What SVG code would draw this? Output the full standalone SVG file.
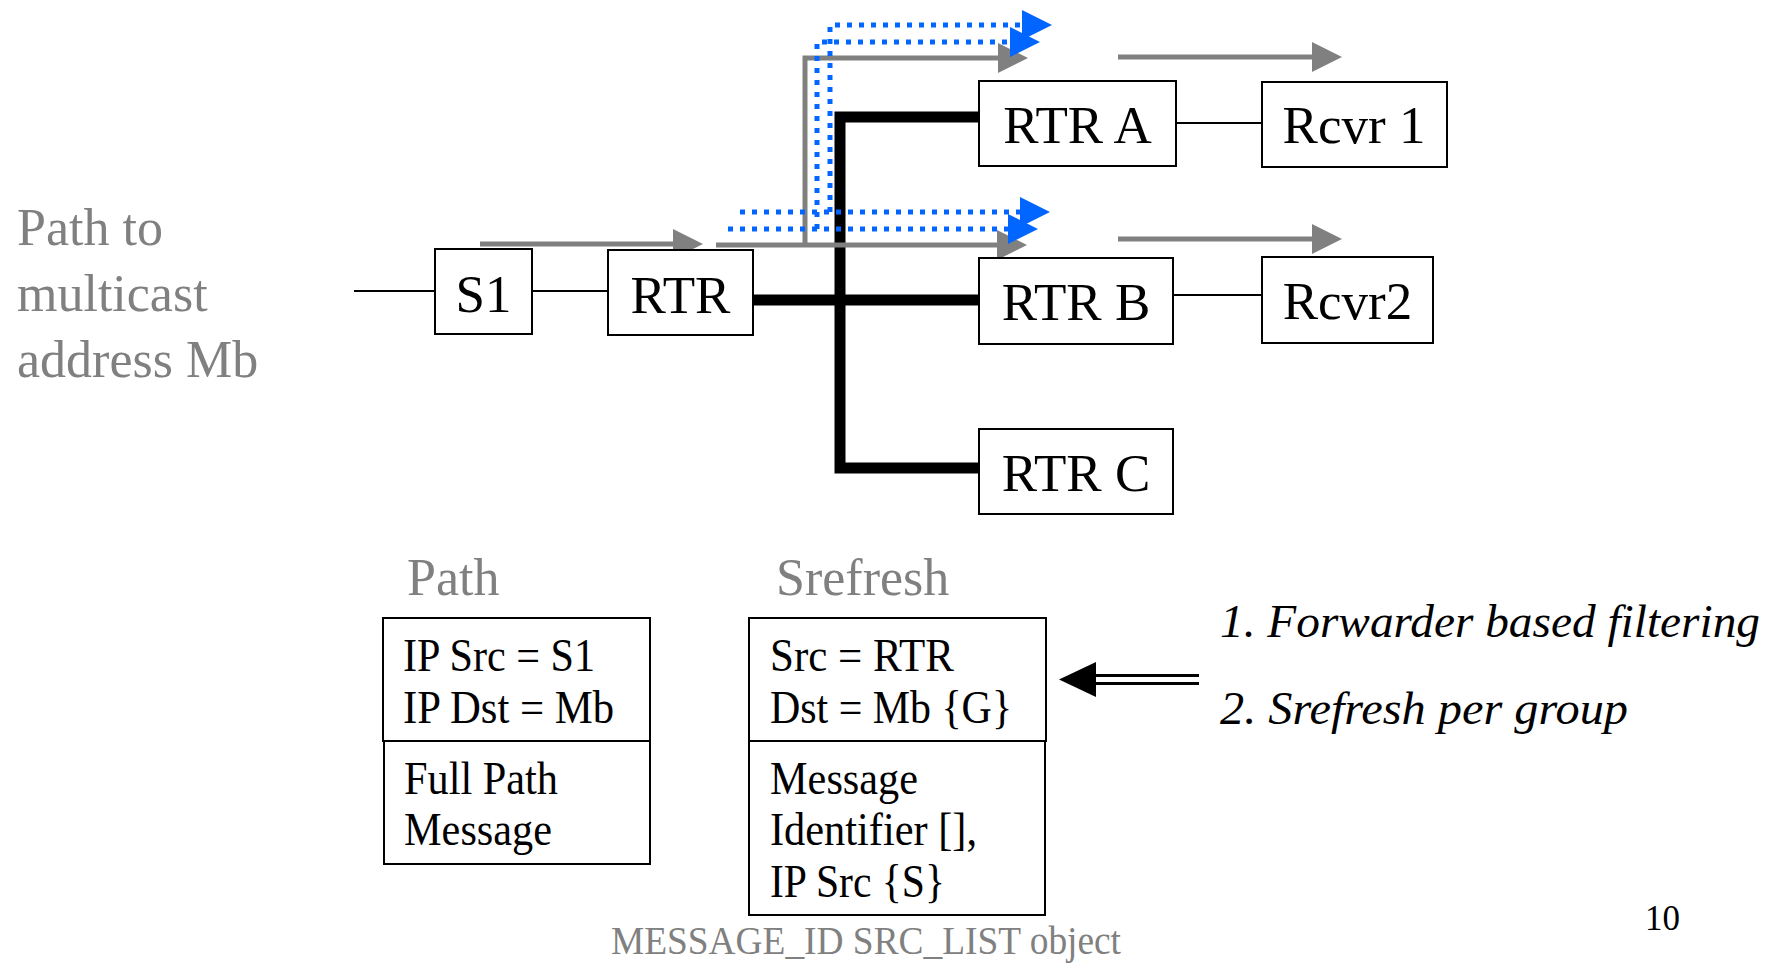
<svg xmlns="http://www.w3.org/2000/svg" width="1785" height="964" viewBox="0 0 1785 964">
<style>
.box{fill:#fff;stroke:#000;stroke-width:2}
.lbl{font-family:"Liberation Serif","Times New Roman",serif;font-size:53px;fill:#000;text-anchor:middle}
.gtxt{font-family:"Liberation Serif","Times New Roman",serif;font-size:52px;fill:#808080}
.btxt{font-family:"Liberation Serif","Times New Roman",serif;font-size:47px;fill:#000}
.itx{font-family:"Liberation Serif","Times New Roman",serif;font-size:47px;font-style:italic;fill:#000}
.thin{fill:none;stroke:#000;stroke-width:2}
.thick{fill:none;stroke:#000;stroke-width:11;stroke-linejoin:miter;stroke-linecap:butt}
.gray{fill:none;stroke:#808080;stroke-width:5}
.blue{fill:none;stroke:#0066ff;stroke-width:5;stroke-dasharray:5 7}
</style>
<defs>
<marker id="ag" markerUnits="userSpaceOnUse" markerWidth="30" markerHeight="30" refX="10" refY="15" orient="auto" viewBox="0 0 30 30"><path d="M0,0 L30,15 L0,30 z" fill="#808080"/></marker>
<marker id="ab" markerUnits="userSpaceOnUse" markerWidth="30" markerHeight="30" refX="10" refY="15" orient="auto" viewBox="0 0 30 30"><path d="M0,0 L30,15 L0,30 z" fill="#0066ff"/></marker>
</defs>

<text class="gtxt" x="17" y="245">Path to</text>
<text class="gtxt" x="17" y="311">multicast</text>
<text class="gtxt" x="17" y="377">address Mb</text>

<g id="connectors">
<path class="thin" d="M354,291 H435"/>
<path class="thin" d="M532,291 H608"/>
<path class="thin" d="M1176,123 H1262"/>
<path class="thin" d="M1173,295 H1262"/>
<path class="thick" d="M753,300 H979"/>
<path class="thick" d="M979,117 H840 V468 H979"/>
<path class="gray" d="M480,244 H683" marker-end="url(#ag)"/>
<path class="gray" d="M716,245 H1007" marker-end="url(#ag)"/>
<path class="gray" d="M805,244 V58 H1008" marker-end="url(#ag)"/>
<path class="gray" d="M1118,57 H1322" marker-end="url(#ag)"/>
<path class="gray" d="M1118,239 H1322" marker-end="url(#ag)"/>
<path class="blue" d="M740,212 H1030" marker-end="url(#ab)"/>
<path class="blue" d="M830,212 V25 H1032" marker-end="url(#ab)"/>
<path class="blue" d="M728,229 H1018" marker-end="url(#ab)"/>
<path class="blue" d="M817,229 V42 H1020" marker-end="url(#ab)"/>
<path d="M1199,675.5 H1090 M1199,683.5 H1090" fill="none" stroke="#000" stroke-width="3"/>
<path d="M1059,679.5 L1096,662 L1096,697 z" fill="#000"/>
</g>

<g id="S1"><rect class="box" x="435" y="249" width="97" height="85"/><text class="lbl" x="483.5" y="312">S1</text></g>
<g id="RTR"><rect class="box" x="608" y="250" width="145" height="85"/><text class="lbl" x="680.5" y="313">RTR</text></g>
<g id="RTR_A"><rect class="box" x="979" y="81" width="197" height="85"/><text class="lbl" x="1077.5" y="143">RTR A</text></g>
<g id="Rcvr1"><rect class="box" x="1262" y="82" width="185" height="85"/><text class="lbl" x="1354" y="143">Rcvr 1</text></g>
<g id="RTR_B"><rect class="box" x="979" y="258" width="194" height="86"/><text class="lbl" x="1076" y="320">RTR B</text></g>
<g id="Rcvr2"><rect class="box" x="1262" y="257" width="171" height="86"/><text class="lbl" x="1347.5" y="319">Rcvr2</text></g>
<g id="RTR_C"><rect class="box" x="979" y="429" width="194" height="85"/><text class="lbl" x="1076" y="491">RTR C</text></g>

<g id="PathMsg">
<text class="gtxt" x="407" y="595">Path</text>
<rect class="box" x="383" y="618" width="267" height="123"/>
<rect class="box" x="384" y="741" width="266" height="123"/>
<text class="btxt" x="403" y="671" textLength="192" lengthAdjust="spacingAndGlyphs">IP Src = S1</text>
<text class="btxt" x="403" y="723" textLength="211" lengthAdjust="spacingAndGlyphs">IP Dst = Mb</text>
<text class="btxt" x="404" y="794" textLength="154" lengthAdjust="spacingAndGlyphs">Full Path</text>
<text class="btxt" x="404" y="845" textLength="148" lengthAdjust="spacingAndGlyphs">Message</text>
</g>

<g id="SrefreshMsg">
<text class="gtxt" x="776" y="595">Srefresh</text>
<rect class="box" x="749" y="618" width="297" height="123"/>
<rect class="box" x="749" y="741" width="296" height="174"/>
<text class="btxt" x="770" y="671" textLength="184" lengthAdjust="spacingAndGlyphs">Src = RTR</text>
<text class="btxt" x="770" y="723" textLength="242" lengthAdjust="spacingAndGlyphs">Dst = Mb {G}</text>
<text class="btxt" x="770" y="794" textLength="148" lengthAdjust="spacingAndGlyphs">Message</text>
<text class="btxt" x="770" y="845" textLength="207" lengthAdjust="spacingAndGlyphs">Identifier [],</text>
<text class="btxt" x="770" y="897" textLength="175" lengthAdjust="spacingAndGlyphs">IP Src {S}</text>
</g>

<text x="611" y="954" font-family="Liberation Serif, Times New Roman, serif" font-size="40" fill="#808080" textLength="510" lengthAdjust="spacingAndGlyphs">MESSAGE_ID SRC_LIST object</text>

<text class="itx" x="1220" y="637" textLength="540" lengthAdjust="spacingAndGlyphs">1. Forwarder based filtering</text>
<text class="itx" x="1220" y="724" textLength="408" lengthAdjust="spacingAndGlyphs">2. Srefresh per group</text>

<text x="1645" y="930" font-family="Liberation Serif, Times New Roman, serif" font-size="35" fill="#000">10</text>
</svg>
